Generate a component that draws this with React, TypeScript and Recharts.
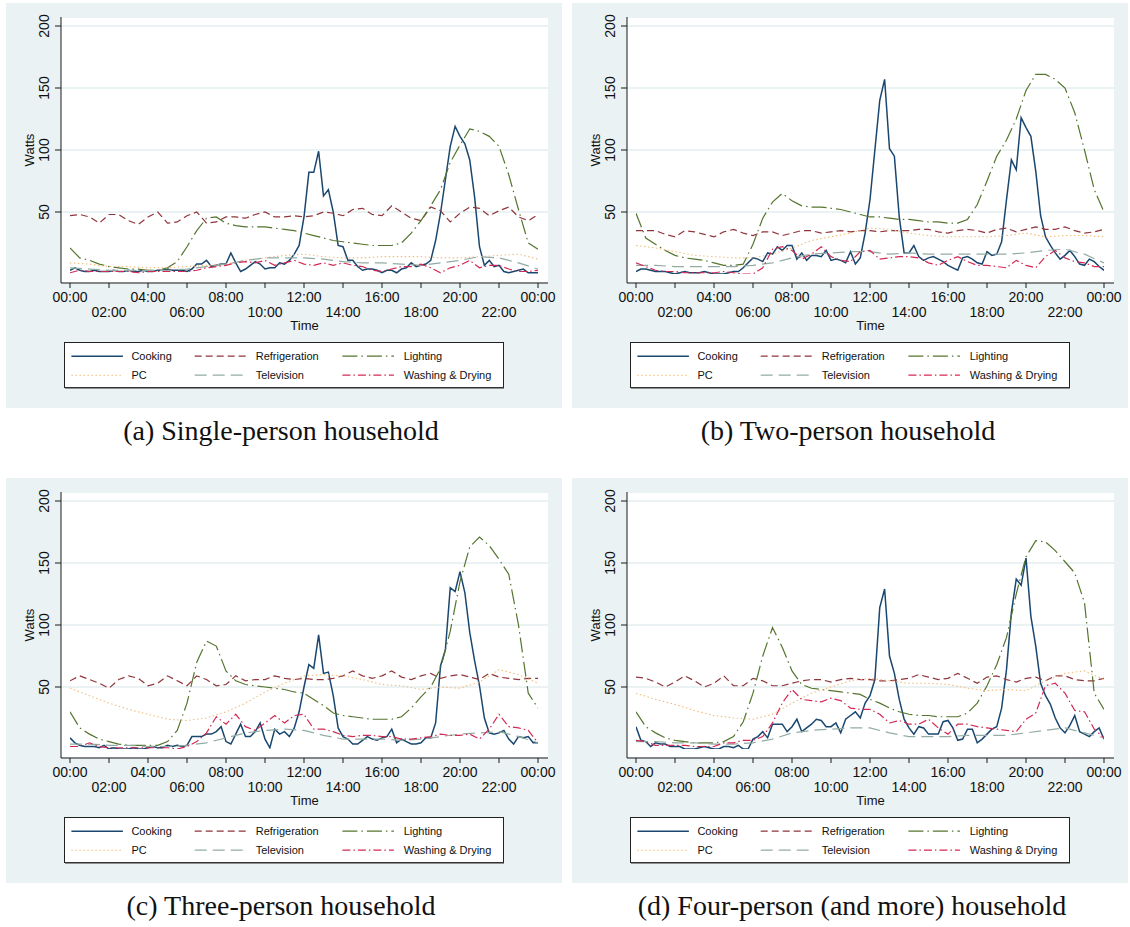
import React from 'react';
import { LineChart, Line, XAxis, YAxis, CartesianGrid, Label } from 'recharts';

// ---------- axis categories ----------
const xTicks = [0, 2, 4, 6, 8, 10, 12, 14, 16, 18, 20, 22, 24];
const xTickLabels = ['00:00', '02:00', '04:00', '06:00', '08:00', '10:00', '12:00', '14:00', '16:00', '18:00', '20:00', '22:00', '00:00'];
const yTicks = [50, 100, 150, 200];
const yTickLabels = ['50', '100', '150', '200'];
const seriesNames = ['Cooking', 'Refrigeration', 'Lighting', 'PC', 'Television', 'Washing & Drying'];
// sampling step (hours) of each series array
const seriesSteps = [0.25, 0.5, 0.5, 1, 1, 0.5];
const captions = ['(a) Single-person household', '(b) Two-person household', '(c) Three-person household', '(d) Four-person (and more) household'];

// ---------- (a) single-person ----------
const cookA = [3, 5, 3, 2, 2, 3, 2, 2, 2, 3, 2, 2, 3, 2, 2, 3, 2, 2, 3, 3, 4, 3, 3, 3, 2, 4, 8, 8, 11, 6, 7, 8, 8, 17, 9, 2, 4, 7, 10, 8, 4, 5, 5, 9, 8, 11, 16, 23, 46, 82, 82, 99, 63, 68, 50, 23, 22, 11, 11, 6, 3, 4, 4, 3, 1, 3, 3, 1, 4, 5, 9, 6, 7, 8, 11, 27, 49, 76, 103, 119, 111, 105, 92, 62, 22, 7, 11, 6, 7, 2, 1, 2, 3, 4, 1, 1, 1];
const fridgeA = [47, 48, 46, 41, 48, 48, 43, 40, 46, 50, 41, 42, 47, 50, 41, 42, 46, 46, 45, 48, 50, 46, 46, 47, 46, 47, 50, 49, 47, 52, 53, 48, 47, 55, 50, 45, 43, 54, 51, 42, 49, 54, 53, 47, 51, 54, 46, 43, 48];
const lightA = [21, 13, 11, 8, 6, 5, 4, 4, 3, 3, 5, 10, 22, 35, 45, 46, 41, 39, 38, 38, 38, 37, 36, 35, 33, 31, 29, 27, 26, 25, 24, 23, 23, 23, 25, 33, 43, 55, 68, 90, 104, 117, 115, 111, 103, 80, 52, 25, 20];
const pcA = [9, 8, 6, 6, 5, 5, 6, 7, 8, 11, 13, 15, 16, 14, 13, 13, 14, 14, 14, 13, 13, 14, 15, 16, 12];
const tvA = [5, 4, 3, 3, 3, 3, 4, 6, 8, 11, 13, 13, 13, 12, 10, 9, 9, 8, 7, 9, 11, 14, 13, 9, 4];
const washA = [1, 3, 2, 2, 2, 2, 2, 1, 2, 2, 2, 2, 2, 3, 5, 6, 7, 9, 10, 9, 11, 7, 9, 11, 8, 7, 9, 7, 9, 7, 6, 3, 2, 4, 6, 6, 8, 5, 1, 5, 7, 11, 5, 7, 7, 4, 2, 2, 3];

// ---------- (b) two-person ----------
const cookB = [2, 4, 4, 3, 2, 2, 2, 1, 0, 1, 2, 1, 1, 1, 2, 1, 0, 0, 0, 1, 2, 2, 5, 9, 13, 12, 10, 17, 16, 22, 19, 23, 23, 12, 17, 11, 15, 15, 14, 19, 11, 12, 11, 9, 18, 8, 13, 33, 60, 100, 140, 157, 101, 95, 46, 17, 17, 23, 14, 11, 13, 14, 12, 10, 7, 5, 3, 13, 14, 12, 9, 8, 18, 15, 16, 26, 60, 92, 84, 126, 118, 111, 83, 47, 30, 23, 17, 12, 15, 19, 14, 8, 7, 12, 10, 6, 3];
const fridgeB = [35, 35, 35, 32, 30, 35, 34, 32, 30, 34, 36, 33, 31, 34, 34, 31, 33, 35, 35, 33, 34, 35, 34, 35, 35, 34, 35, 35, 35, 36, 36, 34, 33, 35, 36, 35, 33, 36, 37, 34, 36, 38, 36, 36, 38, 35, 33, 34, 36];
const lightB = [49, 29, 24, 19, 15, 13, 12, 11, 9, 7, 7, 8, 24, 45, 58, 65, 59, 55, 54, 54, 53, 52, 50, 48, 46, 46, 45, 44, 44, 43, 42, 42, 41, 41, 44, 56, 75, 95, 108, 125, 148, 161, 161, 157, 150, 130, 100, 68, 50];
const pcB = [23, 21, 18, 15, 14, 13, 13, 16, 21, 27, 30, 33, 37, 36, 33, 31, 30, 30, 30, 31, 33, 30, 31, 31, 30];
const tvB = [7, 7, 6, 6, 6, 6, 7, 9, 13, 16, 17, 18, 18, 16, 17, 16, 16, 16, 16, 16, 17, 19, 20, 16, 9];
const washB = [9, 6, 3, 2, 2, 1, 1, 1, 1, 2, 1, 0, 0, 5, 20, 22, 19, 12, 16, 22, 14, 11, 10, 18, 19, 12, 13, 14, 14, 13, 9, 7, 11, 14, 10, 7, 7, 6, 5, 11, 7, 5, 14, 19, 13, 10, 9, 6, 6];

// ---------- (c) three-person ----------
const cookC = [9, 5, 3, 2, 2, 2, 1, 3, 0, 1, 0, 0, 0, 1, 0, 0, 1, 2, 1, 1, 3, 2, 3, 2, 3, 10, 10, 10, 12, 12, 14, 18, 6, 4, 12, 20, 10, 10, 14, 21, 8, 1, 16, 12, 14, 10, 17, 30, 50, 68, 65, 92, 61, 62, 43, 17, 10, 8, 4, 4, 7, 10, 8, 7, 9, 10, 16, 5, 8, 6, 4, 4, 5, 9, 9, 21, 67, 80, 130, 127, 143, 126, 94, 71, 51, 25, 13, 12, 13, 15, 8, 4, 10, 9, 10, 5, 5];
const fridgeC = [55, 59, 56, 53, 49, 56, 59, 57, 51, 53, 59, 55, 51, 59, 56, 51, 52, 59, 55, 56, 56, 59, 57, 56, 57, 56, 56, 57, 59, 63, 59, 57, 59, 63, 58, 56, 59, 61, 57, 59, 60, 58, 56, 61, 58, 57, 56, 57, 57];
const lightC = [30, 17, 12, 8, 6, 4, 3, 3, 3, 3, 6, 15, 37, 70, 87, 83, 63, 55, 52, 51, 50, 49, 48, 46, 45, 40, 35, 29, 27, 26, 25, 24, 24, 24, 26, 33, 42, 50, 65, 95, 135, 163, 171, 164, 153, 141, 100, 45, 33];
const pcC = [49, 43, 37, 32, 28, 24, 23, 25, 30, 37, 46, 53, 59, 60, 59, 56, 52, 51, 48, 50, 49, 54, 64, 60, 53];
const tvC = [4, 4, 3, 3, 2, 2, 3, 5, 9, 13, 15, 16, 15, 11, 8, 8, 8, 7, 8, 10, 12, 13, 14, 10, 5];
const washC = [2, 2, 5, 2, 1, 1, 1, 1, 1, 1, 1, 0, 2, 6, 13, 26, 20, 28, 18, 15, 21, 27, 21, 27, 28, 16, 16, 14, 11, 10, 11, 11, 10, 10, 8, 8, 9, 10, 12, 11, 11, 12, 8, 16, 28, 18, 17, 15, 5];

// ---------- (d) four-person and more ----------
const cookD = [18, 7, 6, 2, 5, 4, 4, 2, 2, 2, 0, 0, 0, 1, 2, 1, 0, 0, 2, 2, 1, 3, 0, 0, 8, 10, 14, 9, 20, 20, 20, 14, 18, 24, 14, 17, 20, 24, 23, 18, 18, 21, 13, 24, 27, 30, 25, 37, 43, 56, 114, 129, 75, 61, 40, 24, 17, 12, 18, 17, 12, 12, 12, 22, 23, 17, 7, 8, 16, 16, 5, 8, 12, 16, 18, 33, 64, 110, 137, 132, 154, 107, 83, 53, 43, 36, 25, 17, 13, 19, 27, 14, 12, 10, 14, 17, 8];
const fridgeD = [58, 57, 54, 50, 54, 59, 55, 50, 53, 59, 51, 51, 57, 55, 51, 51, 53, 55, 56, 56, 54, 56, 57, 56, 56, 55, 55, 56, 57, 60, 58, 56, 57, 61, 57, 53, 58, 59, 56, 54, 57, 58, 55, 59, 59, 56, 55, 55, 57];
const lightD = [30, 18, 13, 9, 7, 6, 5, 5, 5, 6, 10, 22, 45, 75, 98, 82, 63, 52, 49, 48, 47, 46, 45, 44, 40, 37, 33, 30, 28, 27, 27, 26, 26, 26, 29, 37, 51, 68, 90, 125, 155, 168, 167, 160, 151, 142, 118, 45, 32];
const pcD = [45, 40, 36, 31, 27, 25, 24, 28, 37, 45, 50, 55, 57, 55, 53, 53, 52, 49, 47, 48, 47, 55, 61, 63, 56];
const tvD = [6, 6, 5, 5, 4, 4, 5, 8, 13, 15, 16, 17, 17, 13, 10, 10, 10, 11, 11, 11, 13, 15, 17, 13, 9];
const washD = [7, 6, 3, 3, 3, 3, 2, 2, 2, 5, 5, 7, 7, 10, 21, 37, 48, 40, 39, 38, 41, 39, 33, 32, 32, 28, 21, 23, 20, 20, 24, 17, 12, 20, 20, 18, 17, 16, 15, 14, 24, 29, 51, 53, 45, 31, 30, 16, 9];

// ---------- styles ----------
const BG = '#EAF2F3';
const AXIS = '#1a1a1a';
const TEXT = '#111111';
const SANS = '"Liberation Sans", Arial, Helvetica, sans-serif';
const SERIF = '"Liberation Serif", "Times New Roman", serif';

const seriesStyles = [
  { color: '#1a476f', width: 1.5, dash: undefined },
  { color: '#90353b', width: 1.2, dash: '7 4' },
  { color: '#55752f', width: 1.2, dash: '15 4 1.5 4' },
  { color: '#f1bd7c', width: 1.1, dash: '1.5 2.5' },
  { color: '#92aca4', width: 1.2, dash: '12 6' },
  { color: '#d32a55', width: 1.2, dash: '8 3 1.5 3' },
];

const PW = 556;
const PH = 405;
const PLOT_TOP = 14;
const PLOT_BOTTOM = 280;
const PLOT_LEFT = 55;
const PLOT_RIGHT = 542;

const panels = [
  { left: 6, top: 3, capX: 281, capY: 440, series: [cookA, fridgeA, lightA, pcA, tvA, washA] },
  { left: 572, top: 3, capX: 848, capY: 440, series: [cookB, fridgeB, lightB, pcB, tvB, washB] },
  { left: 6, top: 478, capX: 281, capY: 915, series: [cookC, fridgeC, lightC, pcC, tvC, washC] },
  { left: 572, top: 478, capX: 852, capY: 915, series: [cookD, fridgeD, lightD, pcD, tvD, washD] },
];

const toRows = (vals: number[], step: number) => vals.map((v, i) => ({ t: i * step, v }));

const XTick = (props: any) => {
  const { x, payload } = props;
  const i = xTicks.indexOf(payload.value);
  const yy = PLOT_BOTTOM + (i % 2 === 0 ? 14 : 29);
  return (
    <text x={x} y={yy} textAnchor="middle" dominantBaseline="central" fontSize={14} fill={TEXT} fontFamily={SANS}>
      {xTickLabels[i]}
    </text>
  );
};

const YTick = (props: any) => {
  const { y, payload } = props;
  const i = yTicks.indexOf(payload.value);
  const xx = 37.8;
  return (
    <text x={xx} y={y} transform={`rotate(-90, ${xx}, ${y})`} textAnchor="middle" dominantBaseline="central" fontSize={14} fill={TEXT} fontFamily={SANS}>
      {yTickLabels[i]}
    </text>
  );
};

const TimeLabel = () => (
  <text x={(PLOT_LEFT + PLOT_RIGHT) / 2} y={PLOT_BOTTOM + 42.5} textAnchor="middle" dominantBaseline="central" fontSize={13} fill={TEXT} fontFamily={SANS}>
    Time
  </text>
);

const WattsLabel = () => {
  const xx = 23.5;
  const yy = (PLOT_TOP + PLOT_BOTTOM) / 2;
  return (
    <text x={xx} y={yy} transform={`rotate(-90, ${xx}, ${yy})`} textAnchor="middle" dominantBaseline="central" fontSize={13} fill={TEXT} fontFamily={SANS}>
      Watts
    </text>
  );
};

const LegendBox = () => {
  const lineX = [7.4, 130.7, 278.4];
  const textX = [67.4, 191.7, 339.7];
  const rowY = [14.2, 33.2];
  return (
    <svg style={{ position: 'absolute', left: 58, top: 339 }} width={442} height={48}>
      <rect x={0.5} y={0.5} width={439} height={45} fill="#ffffff" stroke="#222" strokeWidth={1} />
      <line x1={1} x2={440} y1={46.3} y2={46.3} stroke="#777" strokeWidth={1} />
      {seriesNames.map((name, k) => {
        const col = k % 3;
        const row = Math.floor(k / 3);
        const st = seriesStyles[k];
        return (
          <g key={name}>
            <line x1={lineX[col]} x2={lineX[col] + 51.5} y1={rowY[row]} y2={rowY[row]} stroke={st.color} strokeWidth={st.width} strokeDasharray={st.dash} />
            <text x={textX[col]} y={rowY[row]} dominantBaseline="central" fontSize={11} fill={TEXT} fontFamily={SANS}>
              {name}
            </text>
          </g>
        );
      })}
    </svg>
  );
};

const Panel = ({ p }: any) => (
  <div style={{ position: 'absolute', left: p.left, top: p.top, width: PW, height: PH, background: BG }}>
    <LineChart width={PW} height={PH} margin={{ top: PLOT_TOP, right: PW - PLOT_RIGHT, bottom: PH - PLOT_BOTTOM - 60, left: 0 }}>
      <CartesianGrid horizontal={true} vertical={false} stroke={BG} strokeWidth={2} fill="#ffffff" />
      <XAxis
        type="number"
        dataKey="t"
        domain={[0, 24]}
        ticks={xTicks}
        interval={0}
        padding={{ left: 9, right: 10 }}
        height={60}
        tickSize={5}
        tick={<XTick />}
        axisLine={{ stroke: AXIS, strokeWidth: 1 }}
        tickLine={{ stroke: AXIS, strokeWidth: 1 }}
        allowDataOverflow={true}
      >
        <Label content={<TimeLabel />} />
      </XAxis>
      <YAxis
        type="number"
        domain={[0, 200]}
        ticks={yTicks}
        interval={0}
        padding={{ top: 9, bottom: 9 }}
        width={PLOT_LEFT}
        tickSize={6}
        tick={<YTick />}
        axisLine={{ stroke: AXIS, strokeWidth: 1 }}
        tickLine={{ stroke: AXIS, strokeWidth: 1 }}
        allowDataOverflow={true}
      >
        <Label content={<WattsLabel />} />
      </YAxis>
      {p.series.map((vals: number[], k: number) => {
        const st = seriesStyles[k];
        return (
          <Line
            key={seriesNames[k]}
            name={seriesNames[k]}
            data={toRows(vals, seriesSteps[k])}
            dataKey="v"
            type="linear"
            stroke={st.color}
            strokeWidth={st.width}
            strokeDasharray={st.dash}
            dot={false}
            activeDot={false}
            isAnimationActive={false}
          />
        );
      })}
    </LineChart>
    <LegendBox />
  </div>
);

export default function App() {
  return (
    <div style={{ position: 'absolute', left: 0, top: 0, width: 1130, height: 927, background: '#ffffff', overflow: 'hidden' }}>
      {panels.map((p, i) => (
        <Panel key={i} p={p} />
      ))}
      <svg style={{ position: 'absolute', left: 0, top: 0, pointerEvents: 'none' }} width={1130} height={927}>
        {panels.map((p, i) => (
          <text key={i} x={p.capX} y={p.capY} textAnchor="middle" fontSize={28} fill="#111" fontFamily={SERIF}>
            {captions[i]}
          </text>
        ))}
      </svg>
    </div>
  );
}
